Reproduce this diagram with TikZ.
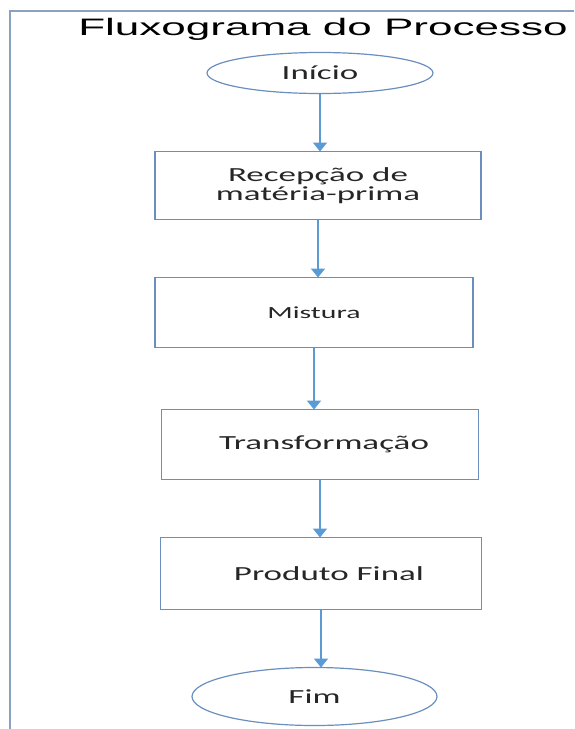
\documentclass[tikz,border=0pt]{standalone}
\usepackage{fontspec}
\newfontfamily\titlefont[FakeStretch=1.85]{Liberation Sans}
\newfontfamily\boxfont[FakeStretch=1.75]{Carlito}
\usetikzlibrary{arrows.meta, positioning, shapes.geometric}
\definecolor{linhaazul}{HTML}{5B9BD5}
\definecolor{bordaazul}{HTML}{6A8FBF}
\definecolor{molduracor}{HTML}{8AA2C0}
\definecolor{texto}{HTML}{262626}
\tikzset{
  etapa/.style = {
    draw=bordaazul, line width=1.4pt, align=center, minimum width=320pt, minimum height=70pt,
    inner sep=0pt, outer sep=0pt, text=texto, font=\boxfont\fontsize{20}{19}\selectfont
  },
  terminal/.style = {
    ellipse, draw=bordaazul, line width=1.2pt, inner sep=0pt, outer sep=0pt, text=texto,
    font=\boxfont\fontsize{20}{19}\selectfont
  },
  titulo/.style = {font=\titlefont\fontsize{23.8}{28}\selectfont, inner sep=0pt},
  seta/.style = {-{Triangle[width=14pt, length=9pt]}, line width=2pt, draw=linhaazul},
  moldura/.style = {draw=molduracor, line width=1.3pt},
}

\begin{document}
\begin{tikzpicture}[x=1pt, y=-1pt]
    \useasboundingbox (0,0) rectangle (574,729);

    % Frame on the left and top
    \draw[moldura] (10,729) -- (10,11) -- (574,11);

    \node[titulo, anchor=base] (titulo) at (323,35) {Fluxograma do Processo};

    % Process steps, top to bottom
    \node[terminal, minimum width=226pt, minimum height=41pt] (inicio) at (320,73) {Início};

    \node[etapa, below=58pt of inicio, xshift=-2pt, minimum width=326pt, minimum height=68pt] (recepcao) {Recepção de\\matéria-prima};

    \node[etapa, below=58pt of recepcao, xshift=-4pt, minimum width=318pt, font=\boxfont\fontsize{17}{19}\selectfont] (mistura) {Mistura};

    \node[etapa, below=62pt of mistura, xshift=6pt, minimum width=317pt] (transformacao) {\hspace*{8pt}Transformação};

    \node[etapa, below=58pt of transformacao, xshift=1pt, minimum width=321pt, minimum height=72pt] (produto) {\hspace*{16pt}Produto Final};

    \node[terminal, below=58pt of produto, xshift=-6.5pt, minimum width=245pt, minimum height=58pt] (fim) {Fim};

    % Arrows
    \draw[seta] (inicio.south) -- (inicio.south |- recepcao.north);
    \draw[seta] (recepcao.south) -- (recepcao.south |- mistura.north);
    \draw[seta] (mistura.south) -- (mistura.south |- transformacao.north);
    \draw[seta] (transformacao.south) -- (transformacao.south |- produto.north);
    \draw[seta] (produto.south) -- (produto.south |- fim.north);

\end{tikzpicture}
\end{document}
